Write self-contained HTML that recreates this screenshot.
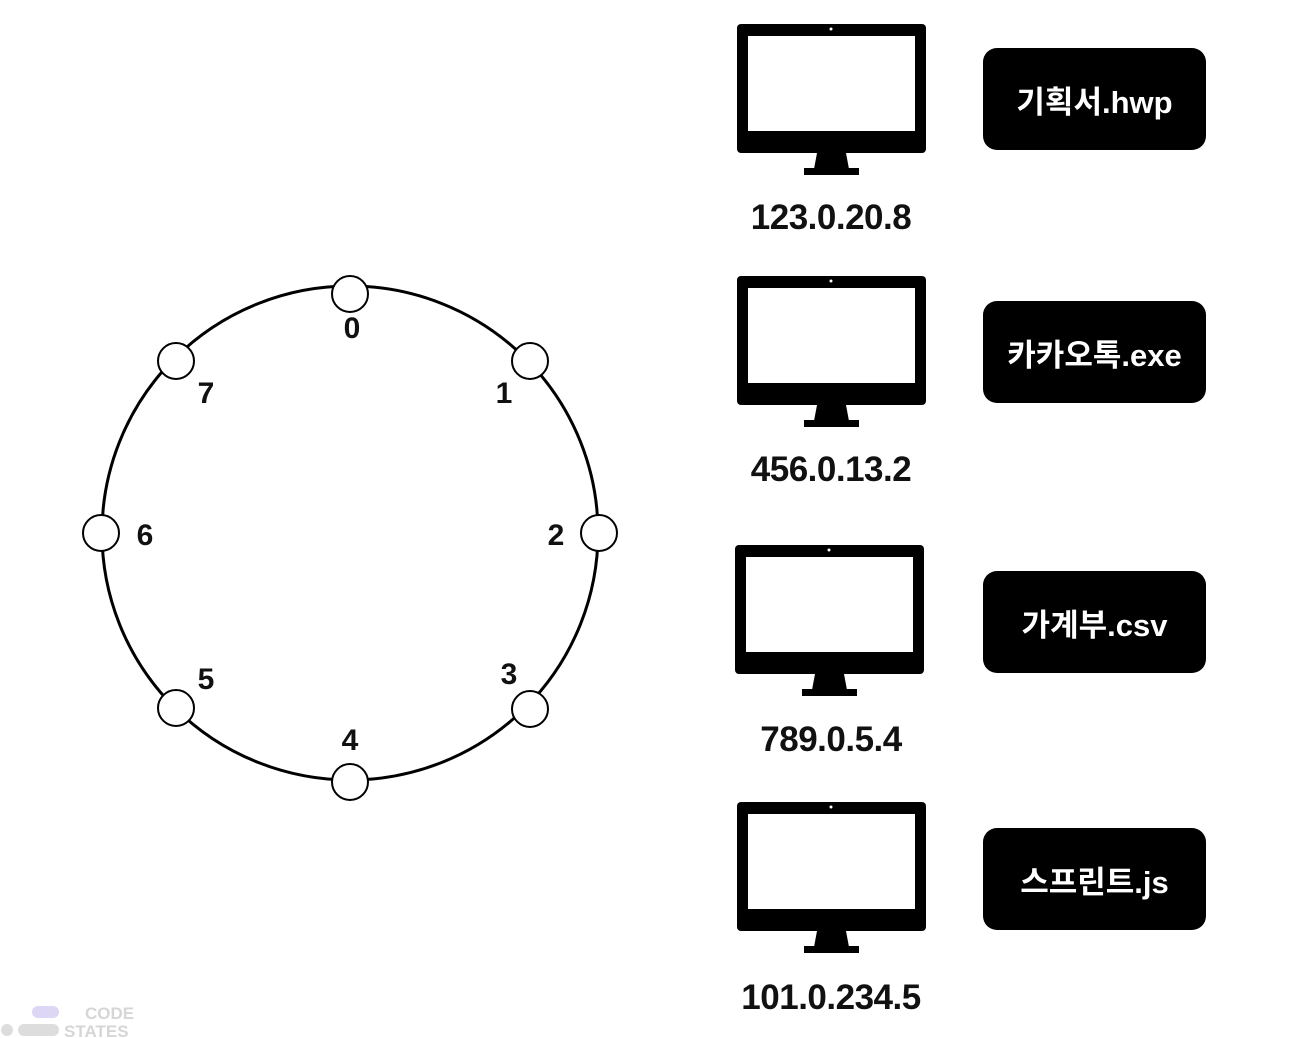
<!DOCTYPE html>
<html><head><meta charset="utf-8"><style>
body{margin:0;width:1296px;height:1038px;background:#fff;position:relative;overflow:hidden;font-family:"Liberation Sans","Noto Sans CJK KR",sans-serif}
.box{position:absolute;left:983px;width:223px;height:102px;background:#000;border-radius:14px;color:#fff;font-size:31px;font-weight:bold;display:flex;align-items:center;justify-content:center}
.ip{position:absolute;left:700px;width:262px;text-align:center;font-size:35px;font-weight:bold;color:#111;letter-spacing:-0.5px}
</style></head><body>
<svg width="1296" height="1038" style="position:absolute;left:0;top:0">
<ellipse cx="350" cy="533" rx="248" ry="247" fill="none" stroke="#000" stroke-width="3"/>
<g fill="#fff" stroke="#000" stroke-width="2">
<circle cx="350" cy="294" r="18"/><circle cx="530" cy="361" r="18"/><circle cx="599" cy="533" r="18"/><circle cx="530" cy="709" r="18"/>
<circle cx="350" cy="782" r="18"/><circle cx="176" cy="708" r="18"/><circle cx="101" cy="533" r="18"/><circle cx="176" cy="361" r="18"/>
</g>
<g font-family="Liberation Sans" font-weight="bold" font-size="30" fill="#111" text-anchor="middle">
<text x="352" y="338">0</text><text x="504" y="403">1</text><text x="556" y="545">2</text><text x="509" y="684">3</text>
<text x="350" y="750">4</text><text x="206" y="689">5</text><text x="145" y="545">6</text><text x="206" y="403">7</text>
</g>
<g id="mon">
<rect x="737" y="24" width="189" height="129" rx="4" fill="#000"/>
<rect x="748" y="36" width="167" height="95" fill="#fff"/>
<circle cx="831" cy="29" r="1.5" fill="#fff"/>
<polygon points="817,153 846,153 849,169 814,169" fill="#000"/>
<rect x="804" y="168" width="55" height="7" fill="#000"/>
</g>
<use href="#mon" y="252"/><use href="#mon" x="-2" y="521"/><use href="#mon" y="778"/>
<rect x="32" y="1006" width="27" height="12" rx="6" fill="#ddd6f5"/>
<circle cx="7" cy="1030" r="6" fill="#ddd"/><rect x="18" y="1024" width="41" height="12" rx="6" fill="#ddd"/>
<g font-family="Liberation Sans" font-weight="bold" font-size="17" fill="#d6d6d6"><text x="85" y="1019">CODE</text><text x="64" y="1037">STATES</text></g>
</svg>
<div class="box" style="top:48px">기획서.hwp</div>
<div class="box" style="top:301px">카카오톡.exe</div>
<div class="box" style="top:571px">가계부.csv</div>
<div class="box" style="top:828px">스프린트.js</div>
<div class="ip" style="top:198px">123.0.20.8</div>
<div class="ip" style="top:450px">456.0.13.2</div>
<div class="ip" style="top:720px">789.0.5.4</div>
<div class="ip" style="top:978px">101.0.234.5</div>
</body></html>
